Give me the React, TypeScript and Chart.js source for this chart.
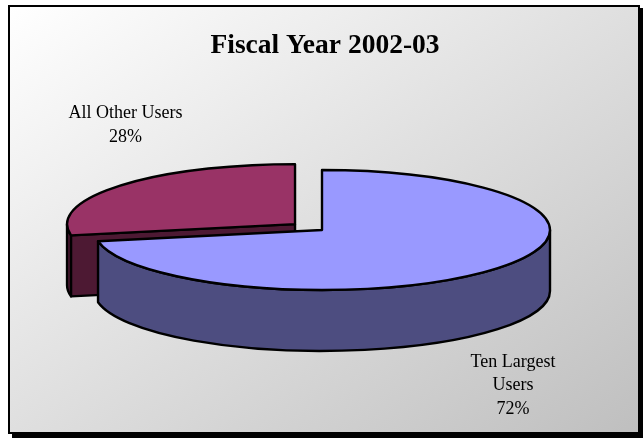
import { useEffect, useRef } from "react";
import { Chart, registerables } from "chart.js";

Chart.register(...registerables);

// Share of water use by customer group, in percent.
const sliceNames = ["Ten Largest Users", "All Other Users"];
const sliceShares = [72, 28];
const sliceTopColors = ["#9999ff", "#993366"];
const sliceWallColors = ["#4d4d80", "#4d1933"];
const sliceOffsets = [0, 140];
const chartTitle = "Fiscal Year 2002-03";
const labelLines = [
  ["Ten Largest", "Users", "72%"],
  ["All Other Users", "28%"],
];

const W = 643;
const H = 438;
const TILT = 0.263; // vertical squash of the disc
const DEPTH = 61; // height of the extruded side
const OUTLINE = 2.4;
const SERIF = '"Liberation Serif", "Times New Roman", serif';

type Geo = { cx: number; cy: number; r: number; a0: number; a1: number };

// Where an arc element sits once flattened, including its exploded offset.
function arcGeometry(arc: any): Geo {
  const mid = (arc.startAngle + arc.endAngle) / 2;
  const off = (arc.options.offset || 0) / 4;
  return {
    cx: arc.x + Math.cos(mid) * off,
    cy: arc.y + Math.sin(mid) * off * TILT,
    r: arc.outerRadius,
    a0: arc.startAngle,
    a1: arc.endAngle,
  };
}

function drawRimWall(ctx: CanvasRenderingContext2D, g: Geo, from: number, to: number) {
  const ry = g.r * TILT;
  ctx.beginPath();
  ctx.ellipse(g.cx, g.cy, g.r, ry, 0, from, to);
  ctx.ellipse(g.cx, g.cy + DEPTH, g.r, ry, 0, to, from, true);
  ctx.closePath();
  ctx.fill();
  ctx.stroke();
}

function drawCutWall(ctx: CanvasRenderingContext2D, g: Geo, angle: number) {
  const x = g.cx + Math.cos(angle) * g.r;
  const y = g.cy + Math.sin(angle) * g.r * TILT;
  ctx.beginPath();
  ctx.moveTo(g.cx, g.cy);
  ctx.lineTo(x, y);
  ctx.lineTo(x, y + DEPTH);
  ctx.lineTo(g.cx, g.cy + DEPTH);
  ctx.closePath();
  ctx.fill();
  ctx.stroke();
}

const pie3d = {
  id: "pie3d",
  beforeDraw(chart: any) {
    const { ctx } = chart;
    const x0 = 9;
    const y0 = 6;
    const bw = 630;
    const bh = 427;
    ctx.save();
    ctx.fillStyle = "#000000";
    ctx.fillRect(12, 8, W - 12, H - 8);
    // Diagonal shading whose mid tone runs through the other two corners.
    const len = Math.hypot(bw, bh);
    const nx = bh / len;
    const ny = bw / len;
    const half = (bw / 2) * nx + (bh / 2) * ny;
    const mx = x0 + bw / 2;
    const my = y0 + bh / 2;
    const grad = ctx.createLinearGradient(mx - nx * half, my - ny * half, mx + nx * half, my + ny * half);
    grad.addColorStop(0, "#ffffff");
    grad.addColorStop(1, "#bfbfbf");
    ctx.fillStyle = grad;
    ctx.strokeStyle = "#000000";
    ctx.lineWidth = 2;
    ctx.fillRect(x0, y0, bw, bh);
    ctx.strokeRect(x0, y0, bw, bh);
    ctx.restore();
  },
  beforeDatasetsDraw(chart: any) {
    const { ctx } = chart;
    const arcs = chart.getDatasetMeta(0).data;
    ctx.save();
    ctx.strokeStyle = "#000000";
    ctx.lineWidth = OUTLINE;
    ctx.lineJoin = "round";
    // Back slice first, so that the front slice paints over it.
    for (let i = arcs.length - 1; i >= 0; i--) {
      const g = arcGeometry(arcs[i]);
      ctx.fillStyle = sliceWallColors[i];
      const from = Math.max(g.a0, 0);
      const to = Math.min(g.a1, Math.PI);
      if (to > from) drawRimWall(ctx, g, from, to);
      if (Math.sin(g.a0 - Math.PI / 2) > 1e-6) drawCutWall(ctx, g, g.a0);
      if (Math.sin(g.a1 + Math.PI / 2) > 1e-6) drawCutWall(ctx, g, g.a1);
    }
    ctx.restore();
    // The library paints the slice tops inside this squashed space.
    const pivot = arcs[0].y;
    ctx.save();
    ctx.translate(0, pivot);
    ctx.scale(1, TILT);
    ctx.translate(0, -pivot);
  },
  afterDatasetsDraw(chart: any) {
    const { ctx } = chart;
    ctx.restore();
    const arcs = chart.getDatasetMeta(0).data;
    ctx.save();
    ctx.strokeStyle = "#000000";
    ctx.lineWidth = OUTLINE;
    ctx.lineJoin = "round";
    arcs.forEach((arc: any) => {
      const g = arcGeometry(arc);
      ctx.beginPath();
      ctx.moveTo(g.cx, g.cy);
      ctx.ellipse(g.cx, g.cy, g.r, g.r * TILT, 0, g.a0, g.a1);
      ctx.closePath();
      ctx.stroke();
    });

    ctx.fillStyle = "#000000";
    ctx.textAlign = "center";
    ctx.textBaseline = "alphabetic";
    ctx.font = `bold 27.5px ${SERIF}`;
    ctx.fillText(chartTitle, 325, 53);
    ctx.font = `18px ${SERIF}`;
    labelLines[0].forEach((line, i) => ctx.fillText(line, 513, 367 + i * 23.3));
    labelLines[1].forEach((line, i) => ctx.fillText(line, 125.5, 118 + i * 24));
    ctx.restore();
  },
};

export default function App() {
  const canvasRef = useRef<HTMLCanvasElement | null>(null);

  useEffect(() => {
    const chart = new Chart(canvasRef.current!, {
      type: "pie",
      data: {
        labels: sliceNames,
        datasets: [
          {
            data: sliceShares,
            backgroundColor: sliceTopColors,
            borderWidth: 0,
            offset: sliceOffsets,
            radius: 228,
            clip: false,
          } as any,
        ],
      },
      options: {
        animation: false,
        responsive: false,
        events: [],
        layout: { padding: { left: 1, top: 22 } },
        plugins: { legend: { display: false }, tooltip: { enabled: false }, title: { display: false } },
      },
      plugins: [pie3d],
    });
    return () => chart.destroy();
  }, []);

  return (
    <canvas
      ref={canvasRef}
      width={W}
      height={H}
      style={{ position: "absolute", left: 0, top: 0, display: "block" }}
    />
  );
}
